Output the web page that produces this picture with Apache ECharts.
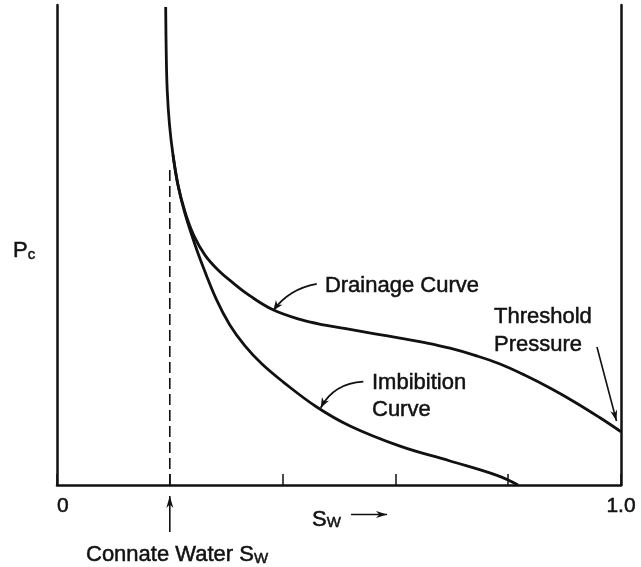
<!DOCTYPE html>
<html>
<head>
<meta charset="utf-8">
<script src="https://cdn.jsdelivr.net/npm/echarts/dist/echarts.min.js"></script>
<style>
  html, body { margin: 0; padding: 0; background: #fff; }
  #chart { width: 641px; height: 567px; }
</style>
</head>
<body>
<div id="chart"></div>
<script>
// Sw = water saturation (fraction), Pc = capillary pressure (relative units, 0-100)
const drainageSw = [0.1927, 0.1936, 0.1954, 0.1995, 0.2057, 0.2145, 0.227, 0.2429, 0.2624, 0.2855, 0.3121,
  0.3422, 0.383, 0.4309, 0.4752, 0.5195, 0.5638, 0.6082, 0.6525, 0.6968, 0.7411, 0.7855, 0.8298,
  0.8741, 0.9184, 0.9628, 1.0];
const drainagePc = [99.6, 90.6, 82.3, 75.0, 68.75, 62.5, 56.9, 51.9, 47.9, 44.8, 42.1,
  39.4, 36.5, 34.5, 33.3, 32.4, 31.5, 30.6, 29.65, 28.5, 27.0, 25.2, 22.85,
  20.2, 17.25, 14.0, 11.1];

const imbibitionSw = [0.2057, 0.2145, 0.2261, 0.2394, 0.2544, 0.2832, 0.3067, 0.3333, 0.3635, 0.4007,
  0.4605, 0.5195, 0.6082, 0.6968, 0.7801, 0.8174];
const imbibitionPc = [68.75, 62.5, 56.9, 51.9, 46.9, 38.5, 33.3, 29.0, 25.2, 21.5,
  16.25, 12.3, 8.1, 5.0, 2.0, 0];

const connateSw = 0.2;
const connateLineTop = 66;

const xTicks = [0, 0.2, 0.4, 0.6, 0.8, 1.0];
const xTickLabels = ['0', '', '', '', '', '1.0'];

const FONT = '"Liberation Sans", Arial, Helvetica, sans-serif';
const INK = '#111';

const pairs = (xs, ys) => xs.map((x, i) => [x, ys[i]]);

const frameAxis = {
  type: 'value',
  min: 0,
  max: 100,
  axisLine: { show: true, onZero: false, lineStyle: { color: INK, width: 2.5 } },
  axisTick: { show: false },
  axisLabel: { show: false },
  splitLine: { show: false },
};

const chart = echarts.init(document.getElementById('chart'));

chart.setOption({
  animation: false,
  backgroundColor: '#fff',
  grid: { left: 57, right: 20, top: 5, bottom: 82, outerBoundsMode: 'none' },
  xAxis: {
    type: 'value',
    min: 0,
    max: 1,
    interval: 0.2,
    axisLine: { onZero: false, lineStyle: { color: INK, width: 2.5 } },
    axisTick: { inside: true, length: 11, lineStyle: { color: INK, width: 1.5 } },
    splitLine: { show: false },
    axisLabel: {
      color: INK,
      fontSize: 21,
      fontFamily: FONT,
      margin: 11,
      textBorderColor: INK,
      textBorderWidth: 0.5,
      showMinLabel: true,
      showMaxLabel: true,
      alignMinLabel: 'left',
      formatter: (v) => xTickLabels[xTicks.indexOf(Math.round(v * 10) / 10)] || '',
    },
  },
  yAxis: [
    { ...frameAxis, position: 'left' },
    { ...frameAxis, position: 'right' },
  ],
  series: [
    {
      name: 'Drainage Curve',
      type: 'line',
      data: pairs(drainageSw, drainagePc),
      smooth: 0.4,
      symbol: 'none',
      lineStyle: { color: INK, width: 2.8 },
      z: 3,
    },
    {
      name: 'Imbibition Curve',
      type: 'line',
      data: pairs(imbibitionSw, imbibitionPc),
      smooth: 0.4,
      symbol: 'none',
      lineStyle: { color: INK, width: 2.8 },
      z: 3,
    },
    {
      name: 'Connate Water Sw',
      type: 'line',
      data: [[connateSw, 0], [connateSw, connateLineTop]],
      symbol: 'none',
      lineStyle: { color: INK, width: 1.6, type: [11, 5] },
    },
  ],
});

// annotations, anchored in data coordinates and placed through the grid's scales
const at = (p) => chart.convertToPixel({ seriesIndex: 0 }, p);

const subRich = (subHeight) => ({
  m: { fontSize: 22, fontFamily: FONT, lineHeight: 30, verticalAlign: 'bottom' },
  s: { fontSize: 15, fontFamily: FONT, lineHeight: subHeight, verticalAlign: 'bottom' },
});

function label(pos, text, extra) {
  const [x, y] = at(pos);
  return {
    type: 'text',
    x, y,
    style: Object.assign({
      text,
      fill: INK,
      fontSize: 22,
      fontFamily: FONT,
      align: 'left',
      verticalAlign: 'middle',
      stroke: INK,
      lineWidth: 0.5,
    }, extra || {}),
  };
}

function head(tip, from, len, half) {
  const dx = tip[0] - from[0];
  const dy = tip[1] - from[1];
  const d = Math.hypot(dx, dy);
  const ux = dx / d, uy = dy / d;
  const bx = tip[0] - ux * len, by = tip[1] - uy * len;
  return {
    type: 'polygon',
    shape: {
      points: [
        tip,
        [bx - uy * half, by + ux * half],
        [tip[0] - ux * len * 0.7, tip[1] - uy * len * 0.7],
        [bx + uy * half, by - ux * half],
      ],
    },
    style: { fill: INK },
  };
}

function curvedArrow(start, ctrl, tip) {
  const p0 = at(start), c = at(ctrl), p1 = at(tip);
  return [
    {
      type: 'bezierCurve',
      shape: { x1: p0[0], y1: p0[1], cpx1: c[0], cpy1: c[1], x2: p1[0], y2: p1[1] },
      style: { stroke: INK, lineWidth: 1.8, fill: 'none' },
    },
    head(p1, c, 10, 4),
  ];
}

function straightArrow(start, tip, len, half) {
  const p0 = at(start), p1 = at(tip);
  return [
    {
      type: 'line',
      shape: { x1: p0[0], y1: p0[1], x2: p1[0], y2: p1[1] },
      style: { stroke: INK, lineWidth: 1.6 },
    },
    head(p1, p0, len, half),
  ];
}

chart.setOption({
  graphic: [
    label([-0.078, 49.5], '{m|P}{s|c}', { rich: subRich(21) }),
    label([0.4521, -6.35], '{m|S}{s|W}', { rich: subRich(16) }),
    ...straightArrow([0.5213, -6.15], [0.5851, -6.15], 11, 3.5),
    label([0.0514, -13.75], '{m|Connate Water S}{s|W}', { rich: subRich(16) }),
    ...straightArrow([connateSw, -9.8], [connateSw, -2.3], 12, 3.5),
    label([0.475, 41.45], 'Drainage Curve'),
    ...curvedArrow([0.4605, 41.88], [0.4113, 40.83], [0.3835, 36.35]),
    label([0.5585, 18.49], 'Imbibition\nCurve', { lineHeight: 27.5 }),
    ...curvedArrow([0.5431, 21.52], [0.4911, 21.19], [0.4676, 16.1]),
    label([0.7748, 32.11], 'Threshold\nPressure', { lineHeight: 27.7 }),
    ...straightArrow([0.9574, 28.75], [0.992, 13.33], 11, 3.5),
  ],
});
</script>
</body>
</html>
